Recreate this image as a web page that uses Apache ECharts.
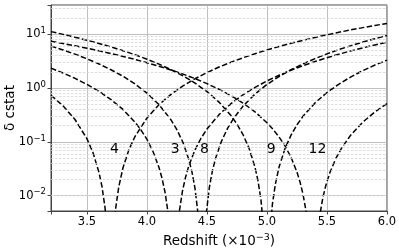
<!DOCTYPE html>
<html><head><meta charset="utf-8">
<script src="https://cdn.jsdelivr.net/npm/echarts@6/dist/echarts.min.js"></script>
<style>html,body{margin:0;padding:0;background:#fff}#c{width:399px;height:249px}</style>
</head><body><div id="c"></div>
<script>
// Curve "4"
const z4 = [3.2,3.3,3.4,3.5,3.55,3.6,3.625,3.65,3.67,3.695,3.72,3.74,3.765,3.8,3.85,3.9,4.0,4.1,4.2,4.3,4.4,4.5,4.6,4.7,4.8,4.9,5.0,5.1,5.2,5.3,5.4,5.5,5.6,5.7,5.8,5.9,6.0];
const d4 = [0.735,0.468,0.261,0.114,0.0631,0.0271,0.0147,0.00608,0.00188,0.00001,0.00188,0.00608,0.0147,0.0331,0.0721,0.126,0.279,0.492,0.765,1.10,1.49,1.94,2.46,3.03,3.66,4.36,5.11,5.92,6.80,7.73,8.72,9.77,10.9,12.1,13.3,14.6,15.9];
// Curve "3"
const z3 = [3.2,3.3,3.4,3.5,3.6,3.7,3.8,3.9,3.95,4.0,4.05,4.1,4.125,4.15,4.175,4.2,4.222,4.245,4.27,4.295,4.32,4.35,4.4,4.45,4.5,4.6,4.7,4.8,4.9,5.0,5.1,5.2,5.3,5.4,5.5,5.6,5.7,5.8,5.9,6.0];
const d3 = [2.35,1.91,1.52,1.17,0.871,0.613,0.401,0.233,0.166,0.111,0.0666,0.0335,0.0212,0.0117,0.00497,0.00109,0.00001,0.00119,0.00518,0.0120,0.0216,0.0369,0.0713,0.117,0.174,0.321,0.514,0.752,1.03,1.36,1.73,2.15,2.61,3.12,3.67,4.27,4.92,5.60,6.34,7.11];
// Curve "8"
const z8 = [3.2,3.3,3.4,3.5,3.6,3.7,3.8,3.9,4.0,4.1,4.2,4.25,4.3,4.35,4.375,4.4,4.425,4.44,4.46,4.48,4.495,4.52,4.545,4.57,4.62,4.67,4.72,4.8,4.9,5.0,5.1,5.2,5.3,5.4,5.5,5.6,5.7,5.8,5.9,6.0];
const d8 = [6.03,5.11,4.27,3.50,2.81,2.19,1.66,1.19,0.804,0.492,0.257,0.168,0.0973,0.0460,0.0275,0.0137,0.00466,0.00152,0.00001,0.0016,0.0049,0.0144,0.0289,0.0484,0.102,0.176,0.270,0.462,0.774,1.17,1.64,2.19,2.82,3.53,4.33,5.20,6.15,7.18,8.29,9.49];
// Curve "9"
const z9 = [3.2,3.3,3.4,3.5,3.6,3.7,3.8,3.9,4.0,4.1,4.2,4.3,4.4,4.5,4.6,4.7,4.75,4.8,4.85,4.9,4.925,4.95,4.975,4.999,5.02,5.045,5.07,5.1,5.15,5.2,5.25,5.3,5.4,5.5,5.6,5.7,5.8,5.9,6.0];
const d9 = [11.2,9.96,8.82,7.75,6.75,5.82,4.96,4.17,3.44,2.79,2.20,1.69,1.24,0.859,0.549,0.308,0.214,0.137,0.0766,0.0338,0.0189,0.00828,0.00199,0.00001,0.00146,0.00698,0.0166,0.0337,0.0752,0.133,0.208,0.299,0.531,0.828,1.19,1.62,2.12,2.68,3.31];
// Curve "12"
const z12 = [3.2,3.3,3.4,3.5,3.6,3.7,3.8,3.9,4.0,4.1,4.2,4.3,4.4,4.5,4.6,4.7,4.8,4.9,5.0,5.05,5.1,5.15,5.2,5.25,5.275,5.3,5.325,5.35,5.383,5.415,5.44,5.465,5.49,5.525,5.575,5.625,5.7,5.8,5.9,6.0];
const d12 = [7.39,6.73,6.10,5.50,4.93,4.39,3.88,3.41,2.96,2.55,2.17,1.82,1.50,1.21,0.950,0.723,0.527,0.362,0.227,0.172,0.124,0.0841,0.0519,0.0274,0.0181,0.0107,0.00521,0.00169,0.00001,0.00138,0.00439,0.00908,0.0155,0.0272,0.0498,0.0791,0.136,0.235,0.361,0.514];

const labelTexts = ['4','3','8','9','12'];
const labelZ = [3.729,4.235,4.479,5.035,5.42];
const labelY = [0.073,0.073,0.073,0.073,0.073];
const minorGrid = [0.006,0.007,0.008,0.009,0.02,0.03,0.04,0.05,0.06,0.07,0.08,0.09,0.2,0.3,0.4,0.5,0.6,0.7,0.8,0.9,2,3,4,5,6,7,8,9,20,30];

const curves = [[z4,d4],[z3,d3],[z8,d8],[z9,d9],[z12,d12]];
const font = 'DejaVu Sans';
const chart = echarts.init(document.getElementById('c'), null, {renderer:'canvas'});
const series = [{
  type:'line', data:[], z:1, silent:true, animation:false,
  markLine:{silent:true, symbol:'none', animation:false, label:{show:false},
    lineStyle:{color:'#d4d4d4', width:0.8, type:[2.5,1.5]},
    emphasis:{disabled:true},
    data: minorGrid.map(v=>({yAxis:v}))}
}];
curves.forEach(([z,d]) => series.push({
  type:'line', data: z.map((v,i)=>[v,d[i]]), showSymbol:false, symbol:'none', z:3,
  lineStyle:{color:'#000', width:1.5, type:[5.5,2.4]}, clip:true, animation:false, silent:true
}));
series.push({
  type:'scatter', symbolSize:1, z:10, zlevel:1, animation:false, silent:true,
  itemStyle:{color:'rgba(0,0,0,0)'},
  data: labelZ.map((v,i)=>({value:[v,labelY[i]], name:labelTexts[i]})),
  label:{show:true, position:'inside', formatter:p=>p.name, color:'#000', opacity:1,
    fontSize:14, fontFamily:font, textBorderWidth:0}
});
chart.setOption({
  animation:false,
  grid:{left:51, right:12, top:5, bottom:38, show:true, borderColor:'#444', borderWidth:1,
    outerBoundsMode:'none', containLabel:false},
  xAxis:{type:'value', min:3.2, max:6.0, splitNumber:6,
    axisLine:{lineStyle:{color:'#444'}}, axisTick:{show:true, length:3.5, lineStyle:{color:'#444'}},
    axisLabel:{color:'#000', fontSize:11.5, fontFamily:font, margin:5,
      formatter:v=>Math.abs(v*2-Math.round(v*2))<1e-6 ? v.toFixed(1) : ''},
    splitLine:{show:true, lineStyle:{color:'#b0b0b0', width:0.8}},
    name:'Redshift (×10{sup|−3})', nameLocation:'middle', nameGap:22, nameMoveOverlap:false,
    nameTextStyle:{color:'#000', fontSize:13.5, fontFamily:font,
      rich:{sup:{fontSize:9.5, fontFamily:font, color:'#000', verticalAlign:'top', padding:[0,0,7,0]}}}
  },
  yAxis:{type:'log', logBase:10, min:0.0052, max:35,
    axisLine:{show:true, lineStyle:{color:'#444'}}, axisTick:{show:true, length:3.5, lineStyle:{color:'#444'}},
    axisLabel:{color:'#000', fontSize:11.5, fontFamily:font, margin:5,
      formatter:v=>{const e=Math.log10(v), r=Math.round(e); if(Math.abs(e-r)>1e-6) return ''; return '10{sup|'+(r<0?'−'+(-r):r)+'}';},
      rich:{sup:{fontSize:8.5, fontFamily:font, color:'#000', verticalAlign:'top', padding:[0,0,7,0]}}},
    splitLine:{show:true, lineStyle:{color:'#b0b0b0', width:0.8}},
    name:'δ cstat', nameLocation:'middle', nameGap:34, nameRotate:90, nameMoveOverlap:false,
    nameTextStyle:{color:'#000', fontSize:13.5, fontFamily:font}
  },
  series: series
});
</script></body></html>
